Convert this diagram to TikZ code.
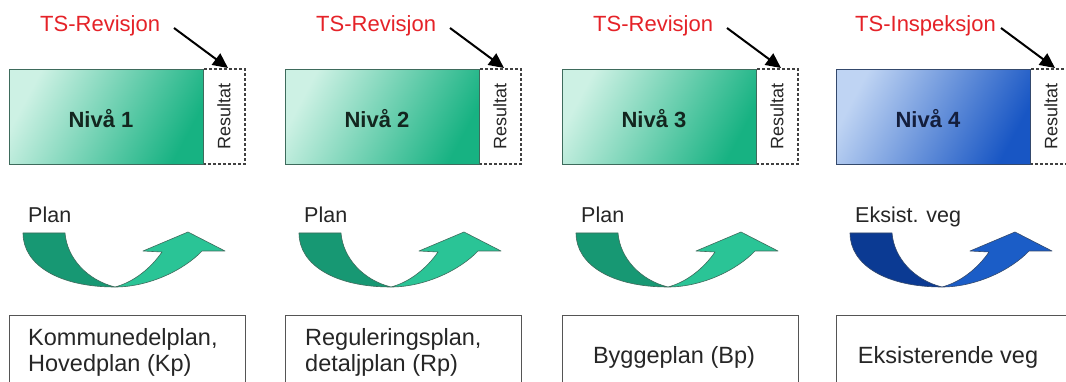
\documentclass[tikz,border=0pt]{standalone}
\usepackage{fontspec}
\setmainfont{Liberation Sans}
\usetikzlibrary{arrows.meta}
\definecolor{tsred}{HTML}{E52228}
\definecolor{gLight}{HTML}{CDF1E4}
\definecolor{gDark}{HTML}{17B282}
\definecolor{bLight}{HTML}{BFD4F3}
\definecolor{bDark}{HTML}{1856C4}
\definecolor{agD}{HTML}{179873}
\definecolor{agL}{HTML}{2AC496}
\definecolor{abD}{HTML}{0B3A93}
\definecolor{abL}{HTML}{1B5DC7}
\definecolor{edgeG}{HTML}{3E6B5C}
\definecolor{edgeB}{HTML}{34496C}
\definecolor{txtG}{HTML}{13261F}
\definecolor{txtB}{HTML}{141E3C}
\definecolor{boxgray}{HTML}{555555}
\tikzset{
  tstext/.style={text=tsred, inner sep=0pt, font=\fontsize{22}{24}\selectfont},
  tsarrow/.style={line width=2pt, draw=black, -{Triangle[length=15pt,width=14pt]}},
  nivbox/.style={draw=#1, line width=0.8pt, inner sep=0pt},
  resbox/.style={draw=black!75, dashed, dash pattern=on 3pt off 2pt, line width=1.1pt, inner sep=0pt, font=\fontsize{18}{20}\selectfont, text=black!85},
  nivtext/.style={inner sep=0pt, font=\bfseries\fontsize{22}{24}\selectfont},
  plantext/.style={inner sep=0pt, text=black!85, font=\fontsize{21.5}{24}\selectfont},
  botbox/.style={draw=boxgray, line width=1.3pt, inner sep=0pt},
  bottext/.style={inner sep=0pt, text=black!85, font=\fontsize{23.5}{26}\selectfont},
  bandline/.style={draw=#1, line width=0.6pt, line join=round}
}
\begin{document}
\begin{tikzpicture}[x=1pt,y=-1pt]
\useasboundingbox (0,0) rectangle (1066,382);
\clip (0,0) rectangle (1066,382);
\fill[white] (0,0) rectangle (1066,382);
\foreach \i/\x/\ts/\tsx/\niv/\lc/\dc/\ec/\tc/\ad/\al/\pl in {%
  1/9/TS-Revisjon/31/Nivå 1/gLight/gDark/edgeG/txtG/agD/agL/Plan,%
  2/285/TS-Revisjon/31/Nivå 2/gLight/gDark/edgeG/txtG/agD/agL/Plan,%
  3/562/TS-Revisjon/31/Nivå 3/gLight/gDark/edgeG/txtG/agD/agL/Plan,%
  4/836/TS-Inspeksjon/19/Nivå 4/bLight/bDark/edgeB/txtB/abD/abL/Eksist. veg}
{
\begin{scope}[xshift=\x pt]
  % Resultat dashed box
  \node[resbox, rotate=90, minimum width=95pt, minimum height=42pt] (r\i) at (215,116.5) {Resultat};
  % level box
  \node[nivbox=\ec, top color=\lc, bottom color=\dc, shading angle=62, minimum width=194pt, minimum height=95pt, anchor=north west] (n\i) at (0,69) {};
  \node[nivtext, text=\tc, anchor=base] (v\i) at (92,128) {\niv};
  % TS label and arrow
  \node[tstext, anchor=base west] (t\i) at (\tsx,32) {\ts};
  \coordinate (s\i) at (165,28);
  \coordinate (e\i) at (219,68);
  \draw[tsarrow] (s\i) -- (e\i);
  % plan label
  \node[plantext, anchor=base west] (p\i) at (19,222.5) {\pl};
  % curved arrow
  \filldraw[fill=\ad, bandline=\ec] (14,233) -- (56,233) .. controls (58,258) and (78,280) .. (106,287) .. controls (50,287) and (14,265) .. (14,233) -- cycle;
  \filldraw[fill=\al, bandline=\ec] (106,287) .. controls (140,287) and (175,270) .. (193,251) -- (216,251) -- (179,232) -- (134,251) -- (153,252) .. controls (142,268) and (125,282) .. (106,287) -- cycle;
  % bottom box
  \node[botbox, anchor=north west, minimum width=236pt, minimum height=90pt] (b\i) at (0,315) {};
\end{scope}
}
\node[bottext, anchor=west, align=left] (bt1) at (28,352) {Kommunedelplan,\\Hovedplan (Kp)};
\node[bottext, anchor=west, align=left] (bt2) at (305,352) {Reguleringsplan,\\detaljplan (Rp)};
\node[bottext] (bt3) at (674,357) {Byggeplan (Bp)};
\node[bottext] (bt4) at (948,357) {Eksisterende veg};
\end{tikzpicture}
\end{document}
